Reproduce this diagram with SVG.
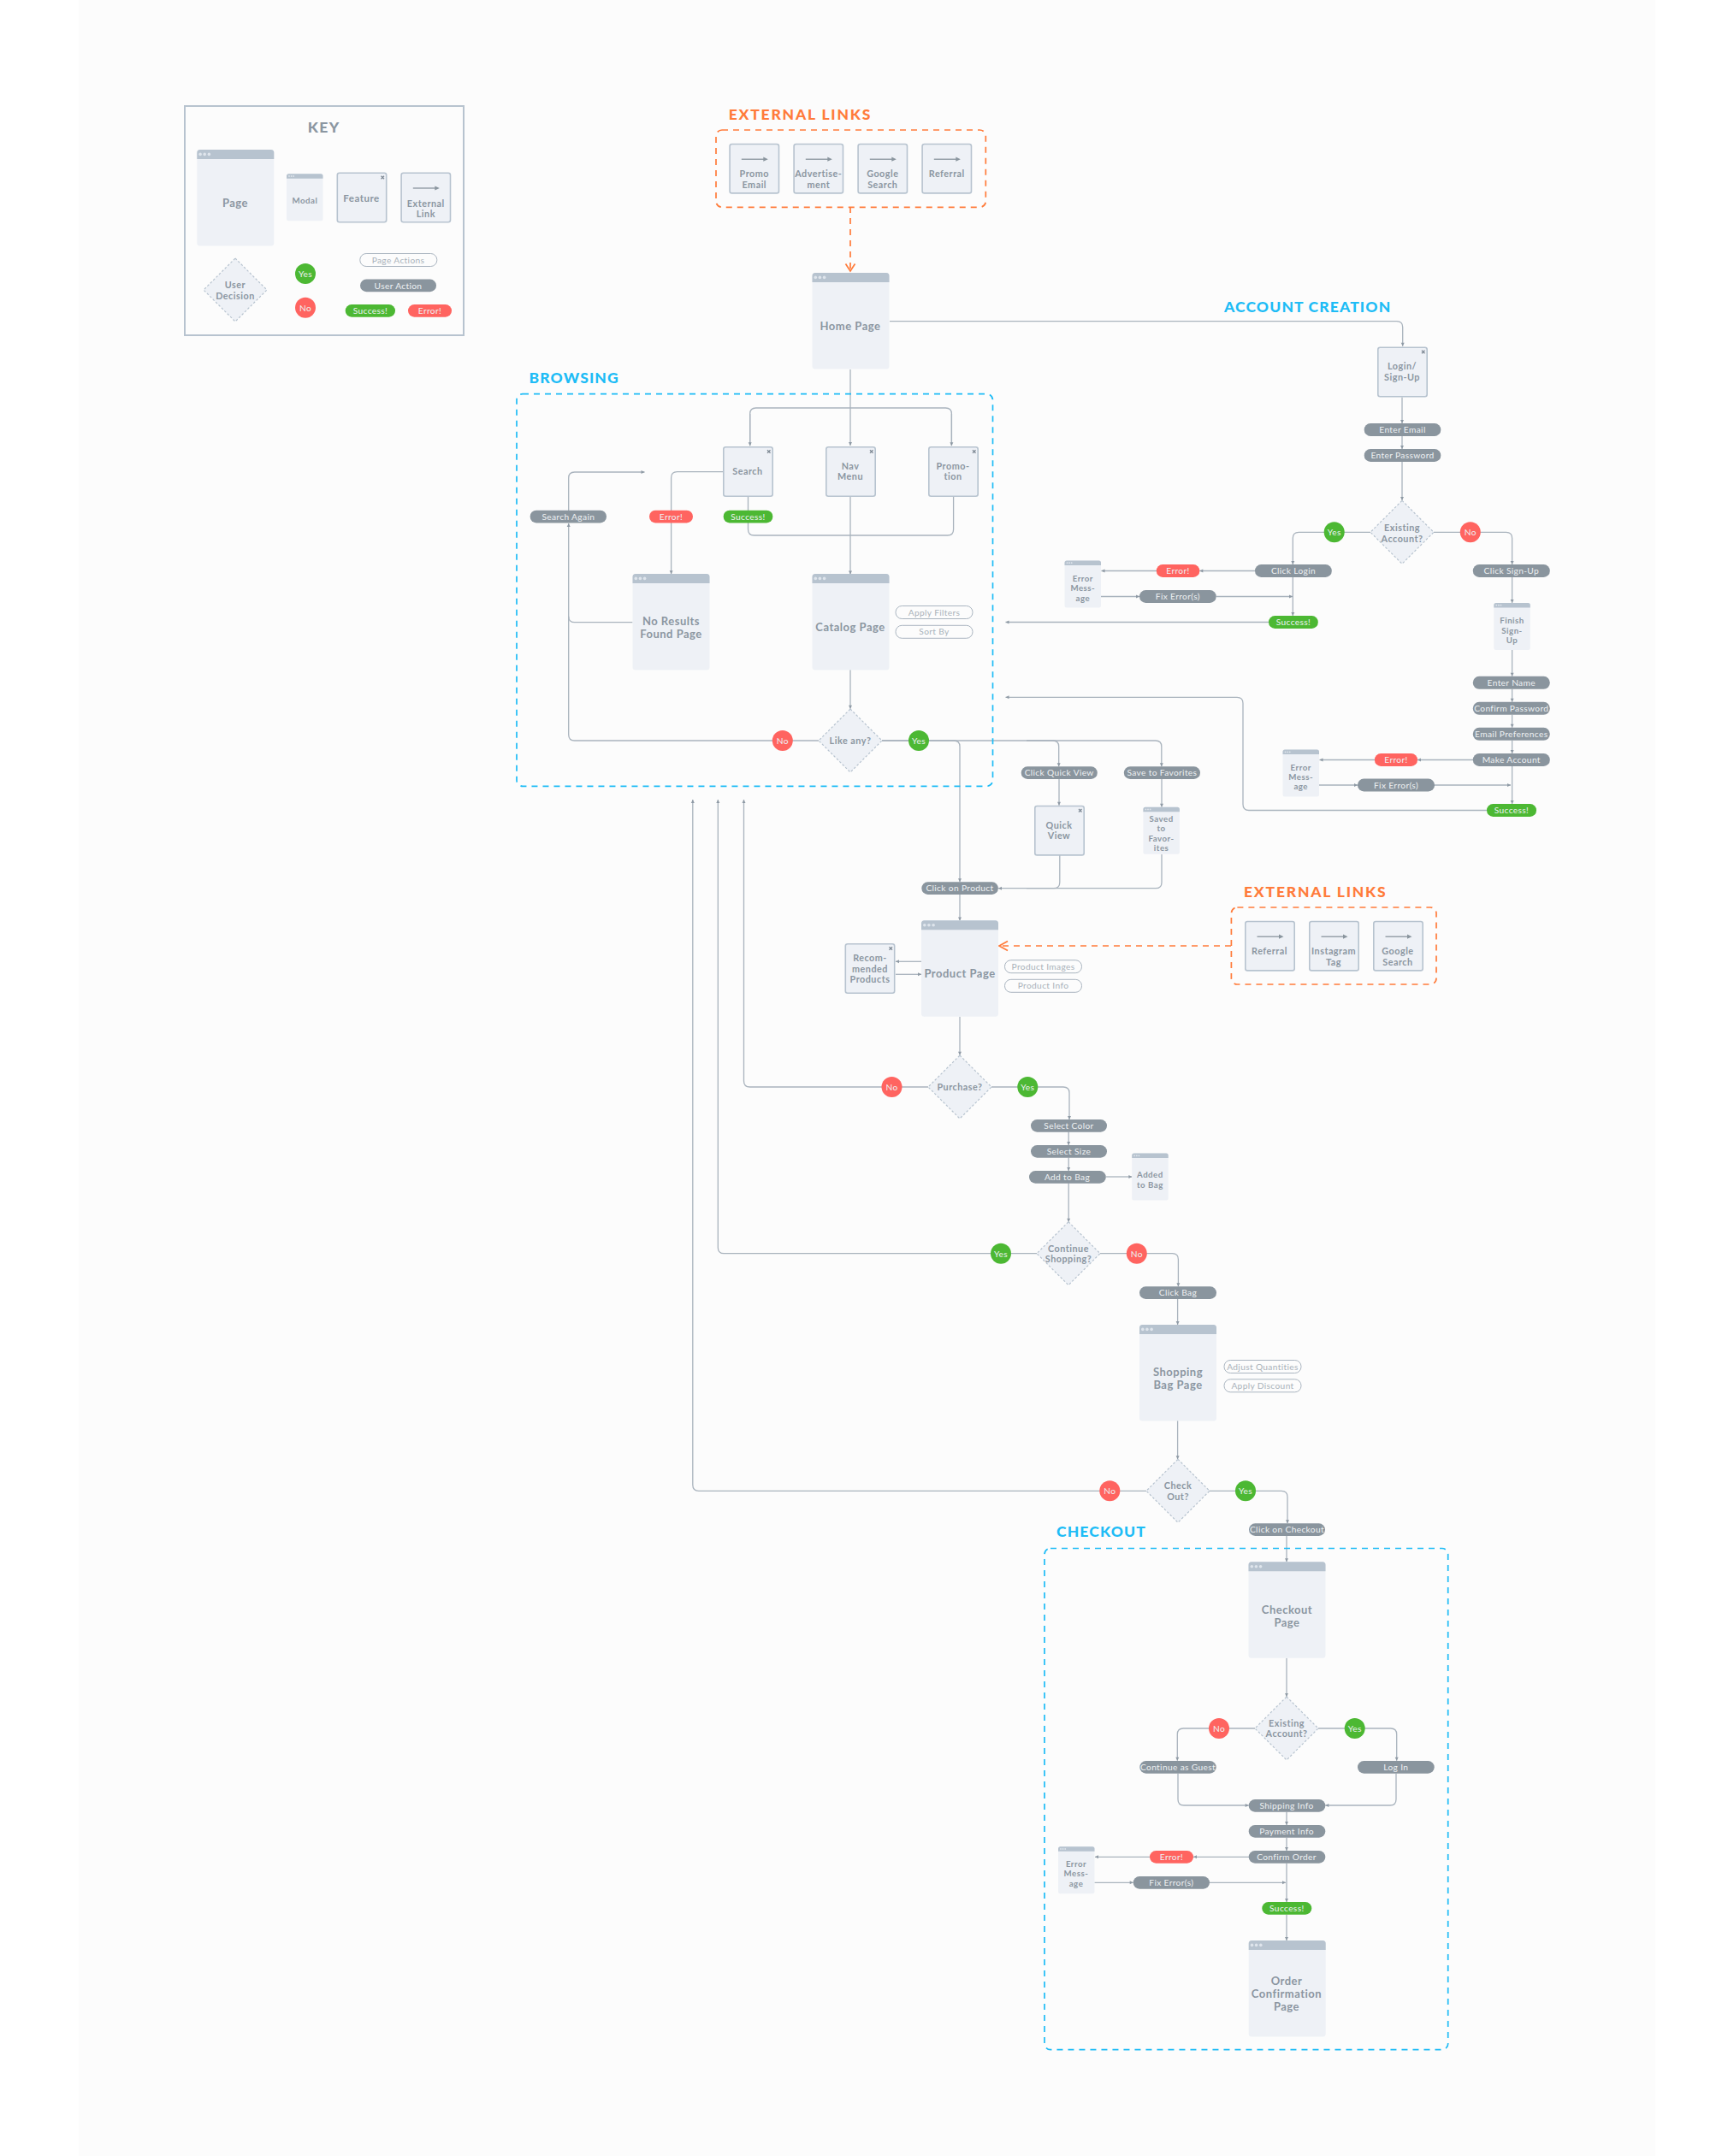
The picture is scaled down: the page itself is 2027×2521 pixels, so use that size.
<svg xmlns="http://www.w3.org/2000/svg" width="2027" height="2521" viewBox="0 0 2027 2521">
<style>
text{font-family:"Lato","Liberation Sans",sans-serif;text-anchor:middle}
.n{font-weight:700;fill:#8b96a1;letter-spacing:.5px}
.s13{font-size:13px}.s11{font-size:11.5px}.s10{font-size:10.8px}.s9{font-size:9.7px}
.t{font-size:10.2px;fill:#eef1f3;letter-spacing:.35px}
.pa{font-size:10.2px;fill:#a9b2ba;letter-spacing:.35px}
.o{font-size:17.5px;font-weight:900;fill:#ff7b3a;letter-spacing:1.8px;text-anchor:start}
.b{font-size:17.5px;font-weight:900;fill:#1ebcf6;letter-spacing:1.15px;text-anchor:start}
.u{fill:#8a959e;rx:7.3px;ry:7.3px}
.ok{fill:#4cb833;rx:7.3px;ry:7.3px}
.er{fill:#ff6460;rx:7.3px;ry:7.3px}
.ac{fill:#fcfcfc;stroke:#aab5c0;stroke-width:1;rx:7.3px;ry:7.3px}
.y{fill:#4cb833}.x{fill:#ff6460}
.c path,.c line{fill:none;stroke:#a9b3bd;stroke-width:1.3}
.a{marker-end:url(#ah)}
.grp{fill:none;stroke-width:1.7;stroke-dasharray:7 6}
</style>
<defs>
<marker id="ah" markerUnits="userSpaceOnUse" markerWidth="5" markerHeight="5" viewBox="0 0 5 5" refX="4.5" refY="2.5" orient="auto"><path d="M0.5,0.5L4.5,2.5L0.5,4.5Z" fill="#8f9aa5"/></marker>
<g id="page"><rect width="90" height="112.5" rx="3.5" fill="#eef1f6"/><path d="M0,11V3.5A3.5,3.5 0 0 1 3.5,0H86.5A3.5,3.5 0 0 1 90,3.5V11Z" fill="#b7c3cf"/><circle cx="3.8" cy="5.4" r="1.8" fill="#dfe5ec"/><circle cx="8.9" cy="5.4" r="1.8" fill="#dfe5ec"/><circle cx="14.1" cy="5.4" r="1.8" fill="#dfe5ec"/></g>
<g id="modal"><rect width="42.5" height="55" rx="2.5" fill="#eef1f6"/><path d="M0,5.5V2.5A2.5,2.5 0 0 1 2.5,0H40A2.5,2.5 0 0 1 42.5,2.5V5.5Z" fill="#b7c3cf"/><circle cx="3" cy="2.7" r=".9" fill="#dfe5ec"/><circle cx="5.6" cy="2.7" r=".9" fill="#dfe5ec"/><circle cx="8.2" cy="2.7" r=".9" fill="#dfe5ec"/></g>
<g id="feature"><rect x=".8" y=".8" width="57.4" height="57.4" rx="2.5" fill="#eef1f6" stroke="#b7c3cf" stroke-width="1.6"/><path d="M52,4.3L55.5,7.8M55.5,4.3L52,7.8" stroke="#7f8a95" stroke-width="1.3"/></g>
<g id="link"><rect x=".8" y=".8" width="57.4" height="57.4" rx="2.5" fill="#eef1f6" stroke="#b7c3cf" stroke-width="1.6"/><path d="M14.5,18.5H42" stroke="#8a959e" stroke-width="1.3"/><path d="M40,15.9L45.5,18.5L40,21.1Z" fill="#8a959e"/></g>
<path id="dia" d="M0,-37L37,0L0,37L-37,0Z" fill="#eef1f6" stroke="#b7c3cf" stroke-width="1.2" stroke-dasharray="2.6 2.2"/>
</defs>
<rect width="2027" height="2521" fill="#fff"/>
<rect x="92" width="1843" height="2521" fill="#fcfcfc"/>

<g id="connectors" class="c">
<path d="M1040,375.6H1632.7Q1639.7,375.6 1639.7,382.6V404.8" class="a"/>
<path d="M994,432V521" class="a"/>
<path d="M876.7,521V484Q876.7,477 883.7,477H1105.4Q1112.4,477 1112.4,484V521"/>
<path d="M876.7,484V521.2" class="a"/><path d="M1112.4,484V521.2" class="a"/>
<path d="M845,551.7H791.6Q784.6,551.7 784.6,558.7V671.3" class="a"/>
<path d="M874.5,581V619Q874.5,626 881.5,626H1107.6Q1114.6,626 1114.6,619V581"/>
<path d="M994,581V671.5" class="a"/>
<path d="M994,783V828.8" class="a"/>
<path d="M957,866H671.7Q664.7,866 664.7,859V612" class="a"/>
<path d="M739.5,727.7H671.7Q664.7,727.7 664.7,720.7"/>
<path d="M664.7,597V559Q664.7,552 671.7,552H753.5" class="a"/>
<path d="M1031,866H1115Q1122,866 1122,873V1031.3" class="a"/>
<path d="M1031,866H1230.7Q1237.7,866 1237.7,873V896.3" class="a"/>
<path d="M1200,866H1350.8Q1357.8,866 1357.8,873V896.3" class="a"/>
<path d="M1238,910V941.7" class="a"/>
<path d="M1358,910V943.7" class="a"/>
<path d="M1238.8,1000V1031.7Q1238.8,1038.7 1231.8,1038.7H1167" class="a"/>
<path d="M1358,999V1031.7Q1358,1038.7 1351,1038.7H1200"/>
<path d="M1122,1046V1076.5" class="a"/>
<path d="M1122,1188.7V1233.8" class="a"/>
<path d="M1077,1124.3H1047" class="a"/>
<path d="M1047,1139.3H1077" class="a"/>
<path d="M1085,1271H876.5Q869.5,1271 869.5,1264V935" class="a"/>
<path d="M1159,1271H1243Q1250,1271 1250,1278V1309" class="a"/>
<path d="M1249.2,1323.6V1339" class="a"/>
<path d="M1249.2,1353.6V1369" class="a"/>
<path d="M1249.2,1383.6V1428.7" class="a"/>
<path d="M1293,1376H1323.4" class="a"/>
<path d="M1212,1465.7H846.3Q839.3,1465.7 839.3,1458.7V935" class="a"/>
<path d="M1286,1465.7H1370.4Q1377.4,1465.7 1377.4,1472.7V1504.3" class="a"/>
<path d="M1376.6,1518.6V1549" class="a"/>
<path d="M1376.6,1661V1706.3" class="a"/>
<path d="M1340,1743.3H816.8Q809.8,1743.3 809.8,1736.3V935" class="a"/>
<path d="M1413,1743.3H1498Q1505,1743.3 1505,1750.3V1781.3" class="a"/>
<path d="M1504,1796V1826.3" class="a"/>
<path d="M1504,1938.7V1984" class="a"/>
<path d="M1467,2021H1383.3Q1376.3,2021 1376.3,2028V2058.8" class="a"/>
<path d="M1541,2021H1625.7Q1632.7,2021 1632.7,2028V2058.8" class="a"/>
<path d="M1377,2073.7V2104Q1377,2111 1384,2111H1459.7" class="a"/>
<path d="M1632,2073.7V2104Q1632,2111 1625,2111H1549.3" class="a"/>
<path d="M1504,2118.7V2134" class="a"/>
<path d="M1504,2148.7V2164" class="a"/>
<path d="M1504,2178.7V2224" class="a"/>
<path d="M1504,2238.7V2269" class="a"/>
<path d="M1460,2171.3H1395" class="a"/>
<path d="M1344,2171.3H1280" class="a"/>
<path d="M1279.3,2201.3H1324.7" class="a"/>
<path d="M1414,2201.3H1503" class="a"/>
<path d="M1639,464.6V495" class="a"/>
<path d="M1639,510V525" class="a"/>
<path d="M1639,540V585" class="a"/>
<path d="M1602,622.3H1518.3Q1511.3,622.3 1511.3,629.3V660" class="a"/>
<path d="M1676,622.3H1760.6Q1767.6,622.3 1767.6,629.3V660" class="a"/>
<path d="M1467,667.5H1402.3" class="a"/>
<path d="M1352,667.5H1287.5" class="a"/>
<path d="M1287,697.5H1332" class="a"/>
<path d="M1421.7,697.5H1511" class="a"/>
<path d="M1511.3,675V720" class="a"/>
<path d="M1483,727.5H1175.5" class="a"/>
<path d="M1767.6,675V705" class="a"/>
<path d="M1767.6,760V790.8" class="a"/>
<path d="M1767.6,805.8V820.8" class="a"/>
<path d="M1767.6,835.8V850.8" class="a"/>
<path d="M1767.6,865.8V881" class="a"/>
<path d="M1767.6,896V940" class="a"/>
<path d="M1722,888.5H1657" class="a"/>
<path d="M1607,888.5H1542.5" class="a"/>
<path d="M1542,918H1587" class="a"/>
<path d="M1677,918H1766" class="a"/>
<path d="M1738,947.5H1460Q1453,947.5 1453,940.5V822.3Q1453,815.3 1446,815.3H1175.5" class="a"/>
</g>

<g id="group-browsing"><rect class="grp" x="604" y="460.7" width="556.5" height="458.6" rx="7" stroke="#1ebcf6"/><text class="b" x="618.5" y="447.5">BROWSING</text></g>
<g id="group-checkout"><rect class="grp" x="1221" y="1810.5" width="471.7" height="586.2" rx="7" stroke="#1ebcf6"/><text class="b" x="1235" y="1797">CHECKOUT</text></g>
<g id="group-account"><text class="b" x="1431" y="364.5">ACCOUNT CREATION</text></g>
<g id="group-ext1"><rect class="grp" x="837" y="152" width="315.3" height="90.3" rx="7" stroke="#ff7b3a"/><text class="o" x="851.7" y="140">EXTERNAL LINKS</text>
<path d="M994,242V316" fill="none" stroke="#ff7b3a" stroke-width="1.7" stroke-dasharray="7 6"/><path d="M988.5,308.5L994,317L999.5,308.5" fill="none" stroke="#ff7b3a" stroke-width="1.7"/></g>
<g id="group-ext2"><rect class="grp" x="1439.4" y="1061" width="239.6" height="90" rx="7" stroke="#ff7b3a"/><text class="o" x="1454" y="1049">EXTERNAL LINKS</text>
<path d="M1439,1106H1170" fill="none" stroke="#ff7b3a" stroke-width="1.7" stroke-dasharray="7 6"/><path d="M1178,1100.5L1168,1106L1178,1111.5" fill="none" stroke="#ff7b3a" stroke-width="1.7"/></g>

<g id="key">
<rect x="216" y="124" width="326" height="268" fill="none" stroke="#b7c3cf" stroke-width="2"/>
<text class="n" x="378.7" y="155" style="font-size:17.5px;letter-spacing:1.4px;font-weight:900">KEY</text>
<use href="#page" x="230.3" y="175"/><text class="n s13" x="275" y="242">Page</text>
<use href="#modal" x="335" y="203.3"/><text class="n s9" x="356.5" y="238">Modal</text>
<use href="#feature" x="393.5" y="201.5"/><text class="n s11" x="422.5" y="235.5">Feature</text>
<use href="#link" x="468.3" y="201.5"/><text class="n s10" x="497.8" y="241.5">External</text><text class="n s10" x="497.8" y="254">Link</text>
<use href="#dia" x="275" y="339"/><text class="n s10" x="275" y="337">User</text><text class="n s10" x="275" y="350">Decision</text>
<circle class="y" cx="357" cy="320" r="12"/><text class="t" x="357" y="324">Yes</text>
<circle class="x" cx="357" cy="359.7" r="12"/><text class="t" x="357" y="363.5">No</text>
<rect class="ac" x="420.8" y="296.5" width="90" height="15"/><text class="pa" x="465.5" y="307.5">Page Actions</text>
<rect class="u" x="421" y="326.5" width="89" height="14.7"/><text class="t" x="465.5" y="337.5">User Action</text>
<rect class="ok" x="403.7" y="356" width="58.3" height="14.7"/><text class="t" x="433" y="367">Success!</text>
<rect class="er" x="477" y="356" width="51" height="14.7"/><text class="t" x="502.5" y="367">Error!</text>
</g>

<g id="links-top">
<use href="#link" x="852.3" y="167.7"/><text class="n s10" x="881.8" y="207">Promo</text><text class="n s10" x="881.8" y="220">Email</text>
<use href="#link" x="927.3" y="167.7"/><text class="n s10" x="956.8" y="207">Advertise-</text><text class="n s10" x="956.8" y="220">ment</text>
<use href="#link" x="1002.3" y="167.7"/><text class="n s10" x="1031.8" y="207">Google</text><text class="n s10" x="1031.8" y="220">Search</text>
<use href="#link" x="1077.3" y="167.7"/><text class="n s10" x="1106.8" y="207">Referral</text>
</g>
<g id="links-bottom">
<use href="#link" x="1455" y="1076.7"/><text class="n s10" x="1484" y="1116">Referral</text>
<use href="#link" x="1530" y="1076.7"/><text class="n s10" x="1559" y="1116">Instagram</text><text class="n s10" x="1559" y="1129">Tag</text>
<use href="#link" x="1605" y="1076.7"/><text class="n s10" x="1634" y="1116">Google</text><text class="n s10" x="1634" y="1129">Search</text>
</g>

<g id="home"><use href="#page" x="949.5" y="319"/><text class="n s13" x="994" y="386">Home Page</text></g>
<g id="search"><use href="#feature" x="845" y="522"/><text class="n s10" x="874" y="555">Search</text></g>
<g id="nav"><use href="#feature" x="965" y="522"/><text class="n s10" x="994" y="549">Nav</text><text class="n s10" x="994" y="561">Menu</text></g>
<g id="promo"><use href="#feature" x="1085" y="522"/><text class="n s10" x="1114" y="549">Promo-</text><text class="n s10" x="1114" y="561">tion</text></g>
<g id="search-again"><rect class="u" x="619.6" y="596.7" width="89.4" height="14.7"/><text class="t" x="664.3" y="607.7">Search Again</text></g>
<g id="search-error"><rect class="er" x="759" y="596.7" width="51" height="14.7"/><text class="t" x="784.5" y="607.7">Error!</text></g>
<g id="search-success"><rect class="ok" x="845.6" y="596.7" width="57.8" height="14.7"/><text class="t" x="874.5" y="607.7">Success!</text></g>
<g id="no-results"><use href="#page" x="739.5" y="671"/><text class="n s13" x="784.5" y="730.5">No Results</text><text class="n s13" x="784.5" y="745.5">Found Page</text></g>
<g id="catalog"><use href="#page" x="949.5" y="671"/><text class="n s13" x="994" y="738">Catalog Page</text></g>
<g id="apply"><rect class="ac" x="1047" y="708.5" width="90" height="15"/><text class="pa" x="1092" y="719.5">Apply Filters</text></g>
<g id="sort"><rect class="ac" x="1047" y="731.3" width="90" height="15"/><text class="pa" x="1092" y="742.3">Sort By</text></g>
<g id="like"><use href="#dia" x="994" y="866"/><text class="n s10" x="994" y="870">Like any?</text></g>
<g id="like-no"><circle class="x" cx="914.8" cy="866" r="12"/><text class="t" x="914.8" y="870">No</text></g>
<g id="like-yes"><circle class="y" cx="1074" cy="866" r="12"/><text class="t" x="1074" y="870">Yes</text></g>

<g id="login"><use href="#feature" x="1610" y="405.5"/><text class="n s10" x="1639" y="432">Login/</text><text class="n s10" x="1639" y="445">Sign-Up</text></g>
<g id="enter-email"><rect class="u" x="1594.7" y="495" width="89.6" height="15"/><text class="t" x="1639.5" y="506">Enter Email</text></g>
<g id="enter-pass"><rect class="u" x="1594.7" y="525" width="89.6" height="15"/><text class="t" x="1639.5" y="536">Enter Password</text></g>
<g id="existing1"><use href="#dia" x="1639" y="622.3"/><text class="n s10" x="1639" y="620.5">Existing</text><text class="n s10" x="1639" y="633.5">Account?</text></g>
<g id="ex1-yes"><circle class="y" cx="1559.7" cy="622.3" r="12"/><text class="t" x="1559.7" y="626">Yes</text></g>
<g id="ex1-no"><circle class="x" cx="1718.8" cy="622.3" r="12"/><text class="t" x="1718.8" y="626">No</text></g>
<g id="click-login"><rect class="u" x="1467" y="660" width="89.8" height="15"/><text class="t" x="1512" y="671">Click Login</text></g>
<g id="login-error"><rect class="er" x="1351.8" y="660" width="50.5" height="15"/><text class="t" x="1377" y="671">Error!</text></g>
<g id="err1"><use href="#modal" x="1244.5" y="655.5"/><text class="n s9" x="1265.8" y="679.5">Error</text><text class="n s9" x="1265.8" y="691">Mess-</text><text class="n s9" x="1265.8" y="703">age</text></g>
<g id="fix1"><rect class="u" x="1332" y="690" width="89.7" height="15"/><text class="t" x="1376.8" y="701">Fix Error(s)</text></g>
<g id="login-success"><rect class="ok" x="1483" y="720" width="57.8" height="15"/><text class="t" x="1512" y="731">Success!</text></g>
<g id="click-signup"><rect class="u" x="1721.8" y="660" width="90" height="15"/><text class="t" x="1766.8" y="671">Click Sign-Up</text></g>
<g id="finish"><use href="#modal" x="1746.3" y="705"/><text class="n s9" x="1767.5" y="729">Finish</text><text class="n s9" x="1767.5" y="740.5">Sign-</text><text class="n s9" x="1767.5" y="752">Up</text></g>
<g id="enter-name"><rect class="u" x="1721.8" y="790.8" width="90" height="15"/><text class="t" x="1766.8" y="801.8">Enter Name</text></g>
<g id="confirm-pass"><rect class="u" x="1721.8" y="820.8" width="90" height="15"/><text class="t" x="1766.8" y="831.8">Confirm Password</text></g>
<g id="email-pref"><rect class="u" x="1721.8" y="850.8" width="90" height="15"/><text class="t" x="1766.8" y="861.8">Email Preferences</text></g>
<g id="make-account"><rect class="u" x="1721.8" y="881" width="90" height="15"/><text class="t" x="1766.8" y="892">Make Account</text></g>
<g id="signup-error"><rect class="er" x="1606.9" y="881" width="50.1" height="15"/><text class="t" x="1632" y="892">Error!</text></g>
<g id="err2"><use href="#modal" x="1499.5" y="876.6"/><text class="n s9" x="1520.7" y="900.5">Error</text><text class="n s9" x="1520.7" y="912">Mess-</text><text class="n s9" x="1520.7" y="923">age</text></g>
<g id="fix2"><rect class="u" x="1587" y="910.5" width="90" height="15"/><text class="t" x="1632" y="921.5">Fix Error(s)</text></g>
<g id="signup-success"><rect class="ok" x="1738" y="940" width="58" height="15"/><text class="t" x="1767" y="951">Success!</text></g>

<g id="click-quick"><rect class="u" x="1193.7" y="896.3" width="89.1" height="14.7"/><text class="t" x="1238.2" y="907.3">Click Quick View</text></g>
<g id="save-fav"><rect class="u" x="1313.8" y="896.3" width="89.2" height="14.7"/><text class="t" x="1358.4" y="907.3">Save to Favorites</text></g>
<g id="quick"><use href="#feature" x="1209" y="941.7"/><text class="n s10" x="1238" y="969">Quick</text><text class="n s10" x="1238" y="981">View</text></g>
<g id="saved"><use href="#modal" x="1336.4" y="943.7"/><text class="n s9" x="1357.6" y="961">Saved</text><text class="n s9" x="1357.6" y="972">to</text><text class="n s9" x="1357.6" y="984">Favor-</text><text class="n s9" x="1357.6" y="995">ites</text></g>
<g id="click-product"><rect class="u" x="1077.3" y="1031.3" width="89.6" height="14.7"/><text class="t" x="1122" y="1042.3">Click on Product</text></g>
<g id="product"><use href="#page" x="1077" y="1076.3"/><text class="n s13" x="1122" y="1143">Product Page</text></g>
<g id="recommended"><use href="#feature" x="987.5" y="1103"/><text class="n s10" x="1017" y="1124">Recom-</text><text class="n s10" x="1017" y="1137">mended</text><text class="n s10" x="1017" y="1149">Products</text></g>
<g id="images"><rect class="ac" x="1174.5" y="1122.7" width="90" height="15"/><text class="pa" x="1219.5" y="1133.7">Product Images</text></g>
<g id="info"><rect class="ac" x="1174.5" y="1145.3" width="90" height="15"/><text class="pa" x="1219.5" y="1156.3">Product Info</text></g>
<g id="purchase"><use href="#dia" x="1122" y="1271"/><text class="n s10" x="1122" y="1275">Purchase?</text></g>
<g id="pur-no"><circle class="x" cx="1042.5" cy="1271" r="12"/><text class="t" x="1042.5" y="1275">No</text></g>
<g id="pur-yes"><circle class="y" cx="1201.3" cy="1271" r="12"/><text class="t" x="1201.3" y="1275">Yes</text></g>
<g id="color"><rect class="u" x="1205" y="1309" width="89" height="14.7"/><text class="t" x="1249.5" y="1320">Select Color</text></g>
<g id="size"><rect class="u" x="1205" y="1339" width="89" height="14.7"/><text class="t" x="1249.5" y="1350">Select Size</text></g>
<g id="add"><rect class="u" x="1203" y="1369" width="89.8" height="14.7"/><text class="t" x="1247.5" y="1380">Add to Bag</text></g>
<g id="added"><use href="#modal" x="1323.2" y="1348.6"/><text class="n s9" x="1344.4" y="1377">Added</text><text class="n s9" x="1344.4" y="1389">to Bag</text></g>
<g id="continue"><use href="#dia" x="1249" y="1465.7"/><text class="n s10" x="1249" y="1464">Continue</text><text class="n s10" x="1249" y="1476">Shopping?</text></g>
<g id="cont-yes"><circle class="y" cx="1170" cy="1465.7" r="12"/><text class="t" x="1170" y="1469.5">Yes</text></g>
<g id="cont-no"><circle class="x" cx="1328.8" cy="1465.7" r="12"/><text class="t" x="1328.8" y="1469.5">No</text></g>
<g id="click-bag"><rect class="u" x="1332" y="1504.3" width="90" height="14.7"/><text class="t" x="1377" y="1515.3">Click Bag</text></g>
<g id="bag"><use href="#page" x="1332" y="1549"/><text class="n s13" x="1377" y="1608.5">Shopping</text><text class="n s13" x="1377" y="1623.5">Bag Page</text></g>
<g id="adjust"><rect class="ac" x="1431" y="1590.5" width="90" height="15"/><text class="pa" x="1476" y="1601.5">Adjust Quantities</text></g>
<g id="discount"><rect class="ac" x="1431" y="1612.8" width="90" height="15"/><text class="pa" x="1476" y="1623.8">Apply Discount</text></g>
<g id="checkout-q"><use href="#dia" x="1377" y="1743.3"/><text class="n s10" x="1377" y="1741">Check</text><text class="n s10" x="1377" y="1754">Out?</text></g>
<g id="chk-no"><circle class="x" cx="1297.3" cy="1743.3" r="12"/><text class="t" x="1297.3" y="1747">No</text></g>
<g id="chk-yes"><circle class="y" cx="1456" cy="1743.3" r="12"/><text class="t" x="1456" y="1747">Yes</text></g>
<g id="click-checkout"><rect class="u" x="1460" y="1781.3" width="89" height="14.7"/><text class="t" x="1504.5" y="1792.3">Click on Checkout</text></g>
<g id="checkout"><use href="#page" x="1459.5" y="1826.3"/><text class="n s13" x="1504.5" y="1887">Checkout</text><text class="n s13" x="1504.5" y="1902">Page</text></g>
<g id="existing2"><use href="#dia" x="1504" y="2021"/><text class="n s10" x="1504" y="2019">Existing</text><text class="n s10" x="1504" y="2031">Account?</text></g>
<g id="ex2-no"><circle class="x" cx="1425" cy="2021" r="12"/><text class="t" x="1425" y="2025">No</text></g>
<g id="ex2-yes"><circle class="y" cx="1583.7" cy="2021" r="12"/><text class="t" x="1583.7" y="2025">Yes</text></g>
<g id="guest"><rect class="u" x="1332.3" y="2059" width="89.4" height="14.7"/><text class="t" x="1377" y="2070">Continue as Guest</text></g>
<g id="login2"><rect class="u" x="1587" y="2059" width="89.7" height="14.7"/><text class="t" x="1631.8" y="2070">Log In</text></g>
<g id="shipping"><rect class="u" x="1459.7" y="2104" width="89.6" height="14.7"/><text class="t" x="1504" y="2115">Shipping Info</text></g>
<g id="payment"><rect class="u" x="1459.7" y="2134" width="89.6" height="14.7"/><text class="t" x="1504" y="2145">Payment Info</text></g>
<g id="confirm"><rect class="u" x="1459.7" y="2164" width="89.6" height="14.7"/><text class="t" x="1504" y="2175">Confirm Order</text></g>
<g id="order-error"><rect class="er" x="1344" y="2164" width="51" height="14.7"/><text class="t" x="1369.5" y="2175">Error!</text></g>
<g id="err3"><use href="#modal" x="1237" y="2159.3"/><text class="n s9" x="1258" y="2183">Error</text><text class="n s9" x="1258" y="2194">Mess-</text><text class="n s9" x="1258" y="2205.5">age</text></g>
<g id="fix3"><rect class="u" x="1324.7" y="2194" width="89.3" height="14.7"/><text class="t" x="1369.3" y="2205">Fix Error(s)</text></g>
<g id="order-success"><rect class="ok" x="1475.3" y="2224" width="58" height="14.7"/><text class="t" x="1504.3" y="2235">Success!</text></g>
<g id="order"><use href="#page" x="1459.7" y="2269"/><text class="n s13" x="1504" y="2320.7">Order</text><text class="n s13" x="1504" y="2335.7">Confirmation</text><text class="n s13" x="1504" y="2350.7">Page</text></g>
</svg>
